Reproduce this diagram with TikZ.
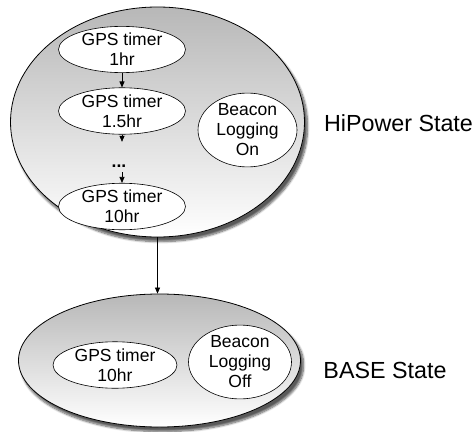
\documentclass[tikz,border=0pt]{standalone}
\usepackage{fontspec}
\setmainfont{Liberation Sans}
\usetikzlibrary{shapes.geometric,arrows.meta,shadows.blur}
\begin{document}
\begin{tikzpicture}[x=1pt,y=-1pt,
  statebox/.style={ellipse,draw=black,line width=0.8pt,inner sep=0pt,
    top color=black!28,bottom color=white,
    blur shadow={shadow xshift=3pt,shadow yshift=-4.5pt,shadow blur steps=8,shadow blur extra rounding=2pt,shadow opacity=65}},
  inbox/.style={ellipse,draw=black,line width=0.6pt,fill=white,inner sep=0pt,align=center,
    font=\fontsize{17.5}{20}\selectfont},
  lbl/.style={font=\fontsize{23.3}{27}\selectfont,inner sep=0pt},
  arr/.style={-{Triangle[length=6pt,width=5pt]},line width=0.7pt},
  dotsbox/.style={inner sep=0pt,text height=25pt,text depth=5pt,font=\fontsize{17.5}{20}\selectfont\bfseries}
]
\useasboundingbox (0,0) rectangle (476,431);
% HiPower state
\node[statebox,minimum width=294pt,minimum height=230pt] (hi) at (157.5,122) {};
\node[inbox,minimum width=127pt,minimum height=41pt] (e1) at (122,49.5) {GPS timer\\1hr};
\node[inbox,minimum width=127pt,minimum height=40pt] (e2) at (122,111) {GPS timer\\1.5hr};
\node[dotsbox] (dots) at (122,157) {\makebox[0pt]{\kern-6pt...}};
\node[inbox,minimum width=127pt,minimum height=40pt] (e3) at (122,206.5) {GPS timer\\10hr};
\node[inbox,minimum width=99pt,minimum height=66pt] (bon) at (247.5,130) {Beacon\\Logging\\On};
\node[lbl] (hil) at (398.5,123) {HiPower State};
\draw[arr] (e1) -- (e2);
\draw[arr] (e2) -- (dots);
\draw[arr] (dots) -- (e3);
% BASE state
\node[statebox,minimum width=282pt,minimum height=133pt] (base) at (159.5,360.5) {};
\node[inbox,minimum width=124pt,minimum height=44pt] (b1) at (115,365) {GPS timer\\10hr};
\node[inbox,minimum width=103pt,minimum height=72pt] (boff) at (240,362) {Beacon\\Logging\\Off};
\node[lbl] (basel) at (385,370) {BASE State};
\draw[arr] (hi.south) -- (hi.south |- base.north);
\end{tikzpicture}
\end{document}
